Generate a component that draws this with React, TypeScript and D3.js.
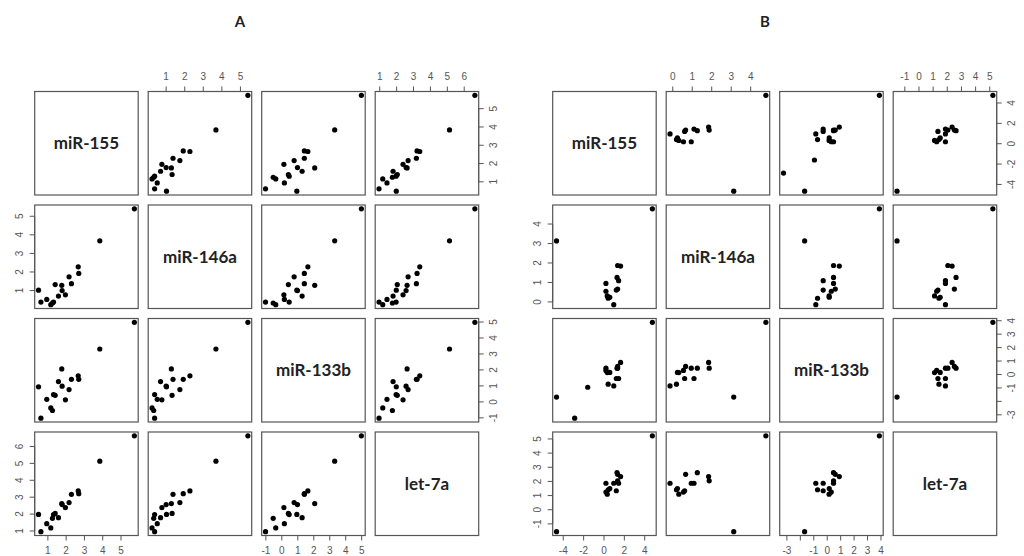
import React from "react";
import * as d3 from "d3";

// variable names on the diagonal
const varNames = ["miR-155", "miR-146a", "miR-133b", "let-7a"];

// panel A samples
const a155 = [0.49, 0.62, 0.94, 1.16, 1.25, 1.31, 1.4, 1.58, 1.76, 1.78, 1.96, 2.16, 2.29, 2.66, 2.69, 3.84, 5.73];
const a146a = [1.02, 0.38, 0.52, 0.24, 0.33, 0.38, 1.32, 0.7, 1.28, 1.0, 0.77, 1.74, 1.37, 2.28, 1.92, 3.68, 5.4];
const a133b = [0.94, -1.02, 0.16, -0.38, -0.54, 0.46, 0.41, 1.27, 2.06, 0.98, 0.13, 0.77, 1.41, 1.63, 1.41, 3.31, 4.98];
const aLet7a = [1.98, 0.96, 1.43, 1.18, 1.75, 1.97, 2.04, 1.79, 2.62, 2.56, 2.38, 2.68, 3.17, 3.37, 3.21, 5.13, 6.63];

// panel B samples (null = missing)
const b155 = [-4.66, 4.75, -2.88, -1.6, 0.96, 0.41, 0.57, 0.32, 0.19, 1.21, 1.34, 0.19, 1.44, 1.28, 1.63, 1.34];
const b146a = [3.13, 4.78, null, null, -0.14, 0.19, 0.24, 0.31, 0.55, 0.61, 0.66, 0.95, 1.09, 1.26, 1.84, 1.87];
const b133b = [-1.68, 3.88, -3.25, -0.95, -0.85, -0.72, 0.15, 0.14, 0.3, -0.3, 0.6, 0.47, -0.3, 0.47, 0.9, 0.47];
const bLet7a = [-1.55, 5.22, null, null, 1.87, 1.41, 1.5, 1.1, 1.25, 1.34, 2.5, 1.87, 1.87, 2.62, 2.34, 2.04];

// tick values per variable
const aTicks = [[1, 2, 3, 4, 5], [1, 2, 3, 4, 5], [-1, 0, 1, 2, 3, 4, 5], [1, 2, 3, 4, 5, 6]];
const bTicks = [[-4, -2, 0, 2, 4], [0, 1, 2, 3, 4], [-3, -2, -1, 0, 1, 2, 3, 4], [-1, 0, 1, 2, 3, 4, 5]];
// labels R left out because they overlap
const bSkipped = [[], [], [-2], []];

const SIZE = 103.5;
const STEP = 113.5;
const TOP = 91.5;
const TICK = 5;
const GRAY = "#555";
const LABEL_FONT = "Lato, 'Open Sans', sans-serif";
const TICK_FONT = "'Liberation Sans', Arial, sans-serif";

type Vals = (number | null)[];

function Pairs({ x0, vars, ticks, skipped, title, titleX }: {
  x0: number; vars: Vals[]; ticks: number[][]; skipped: number[][]; title: string; titleX: number;
}) {
  const n = vars.length;
  const colX = (j: number) => x0 + j * STEP;
  const rowY = (i: number) => TOP + i * STEP;

  // R pairs: range of the values extended by 4%
  const domains = vars.map((v) => {
    const [lo, hi] = d3.extent(v.filter((d) => d !== null) as number[]) as [number, number];
    const pad = (hi - lo) * 0.04;
    return [lo - pad, hi + pad];
  });
  const xs = domains.map((d, j) => d3.scaleLinear().domain(d).range([colX(j), colX(j) + SIZE]));
  const ys = domains.map((d, i) => d3.scaleLinear().domain(d).range([rowY(i) + SIZE, rowY(i)]));

  const axes: React.ReactNode[] = [];
  for (let k = 0; k < n; k++) {
    const t = ticks[k];
    const lbl = (v: number) => (skipped[k].includes(v) ? "" : String(v));
    // horizontal axis: top on even columns (2,4), bottom on odd ones
    const top = k % 2 === 1;
    const yEdge = top ? rowY(0) : rowY(n - 1) + SIZE;
    const dir = top ? -1 : 1;
    axes.push(
      <g key={"x" + k}>
        <line x1={xs[k](t[0])} x2={xs[k](t[t.length - 1])} y1={yEdge} y2={yEdge} stroke={GRAY} />
        {t.map((v) => (
          <g key={v}>
            <line x1={xs[k](v)} x2={xs[k](v)} y1={yEdge} y2={yEdge + dir * TICK} stroke={GRAY} />
            <text x={xs[k](v)} y={yEdge + dir * 15} dy="0.35em" textAnchor="middle"
              fontSize={10} fontFamily={TICK_FONT} fill={GRAY}>{lbl(v)}</text>
          </g>
        ))}
      </g>
    );
    // vertical axis: left on even rows (2,4), right on odd ones
    const left = k % 2 === 1;
    const xEdge = left ? colX(0) : colX(n - 1) + SIZE;
    const hdir = left ? -1 : 1;
    axes.push(
      <g key={"y" + k}>
        <line x1={xEdge} x2={xEdge} y1={ys[k](t[0])} y2={ys[k](t[t.length - 1])} stroke={GRAY} />
        {t.map((v) => (
          <g key={v}>
            <line x1={xEdge} x2={xEdge + hdir * TICK} y1={ys[k](v)} y2={ys[k](v)} stroke={GRAY} />
            <text transform={`translate(${xEdge + hdir * 15},${ys[k](v)}) rotate(-90)`} dy="0.35em"
              textAnchor="middle" fontSize={10} fontFamily={TICK_FONT} fill={GRAY}>{lbl(v)}</text>
          </g>
        ))}
      </g>
    );
  }

  const cells: React.ReactNode[] = [];
  for (let i = 0; i < n; i++) {
    for (let j = 0; j < n; j++) {
      const x = colX(j), y = rowY(i);
      let inner: React.ReactNode = null;
      if (i === j) {
        inner = (
          <text x={x + SIZE / 2} y={y + SIZE / 2} dy="0.35em" textAnchor="middle"
            fontSize={17} fontWeight="bold" fontFamily={LABEL_FONT} fill="#222">{varNames[i]}</text>
        );
      } else {
        inner = vars[j].map((vx, k) => {
          const vy = vars[i][k];
          if (vx === null || vy === null) return null;
          return <circle key={k} cx={xs[j](vx)} cy={ys[i](vy)} r={2.6} fill="#000" />;
        });
      }
      cells.push(
        <g key={i + "-" + j}>
          <rect x={x} y={y} width={SIZE} height={SIZE} fill="none" stroke={GRAY} strokeWidth={1.2} />
          {inner}
        </g>
      );
    }
  }

  return (
    <g>
      <text x={titleX} y={27} textAnchor="middle" fontSize={15} fontWeight="bold"
        fontFamily={LABEL_FONT} fill="#222">{title}</text>
      {cells}
      {axes}
    </g>
  );
}

export default function App() {
  return (
    <svg width={1024} height={556} style={{ position: "absolute", left: 0, top: 0, background: "#fff" }}>
      <rect width={1024} height={556} fill="#fff" />
      <Pairs x0={34.7} vars={[a155, a146a, a133b, aLet7a]} ticks={aTicks}
        skipped={[[], [], [], []]} title="A" titleX={240} />
      <Pairs x0={552.7} vars={[b155, b146a, b133b, bLet7a]} ticks={bTicks}
        skipped={bSkipped} title="B" titleX={765} />
    </svg>
  );
}
